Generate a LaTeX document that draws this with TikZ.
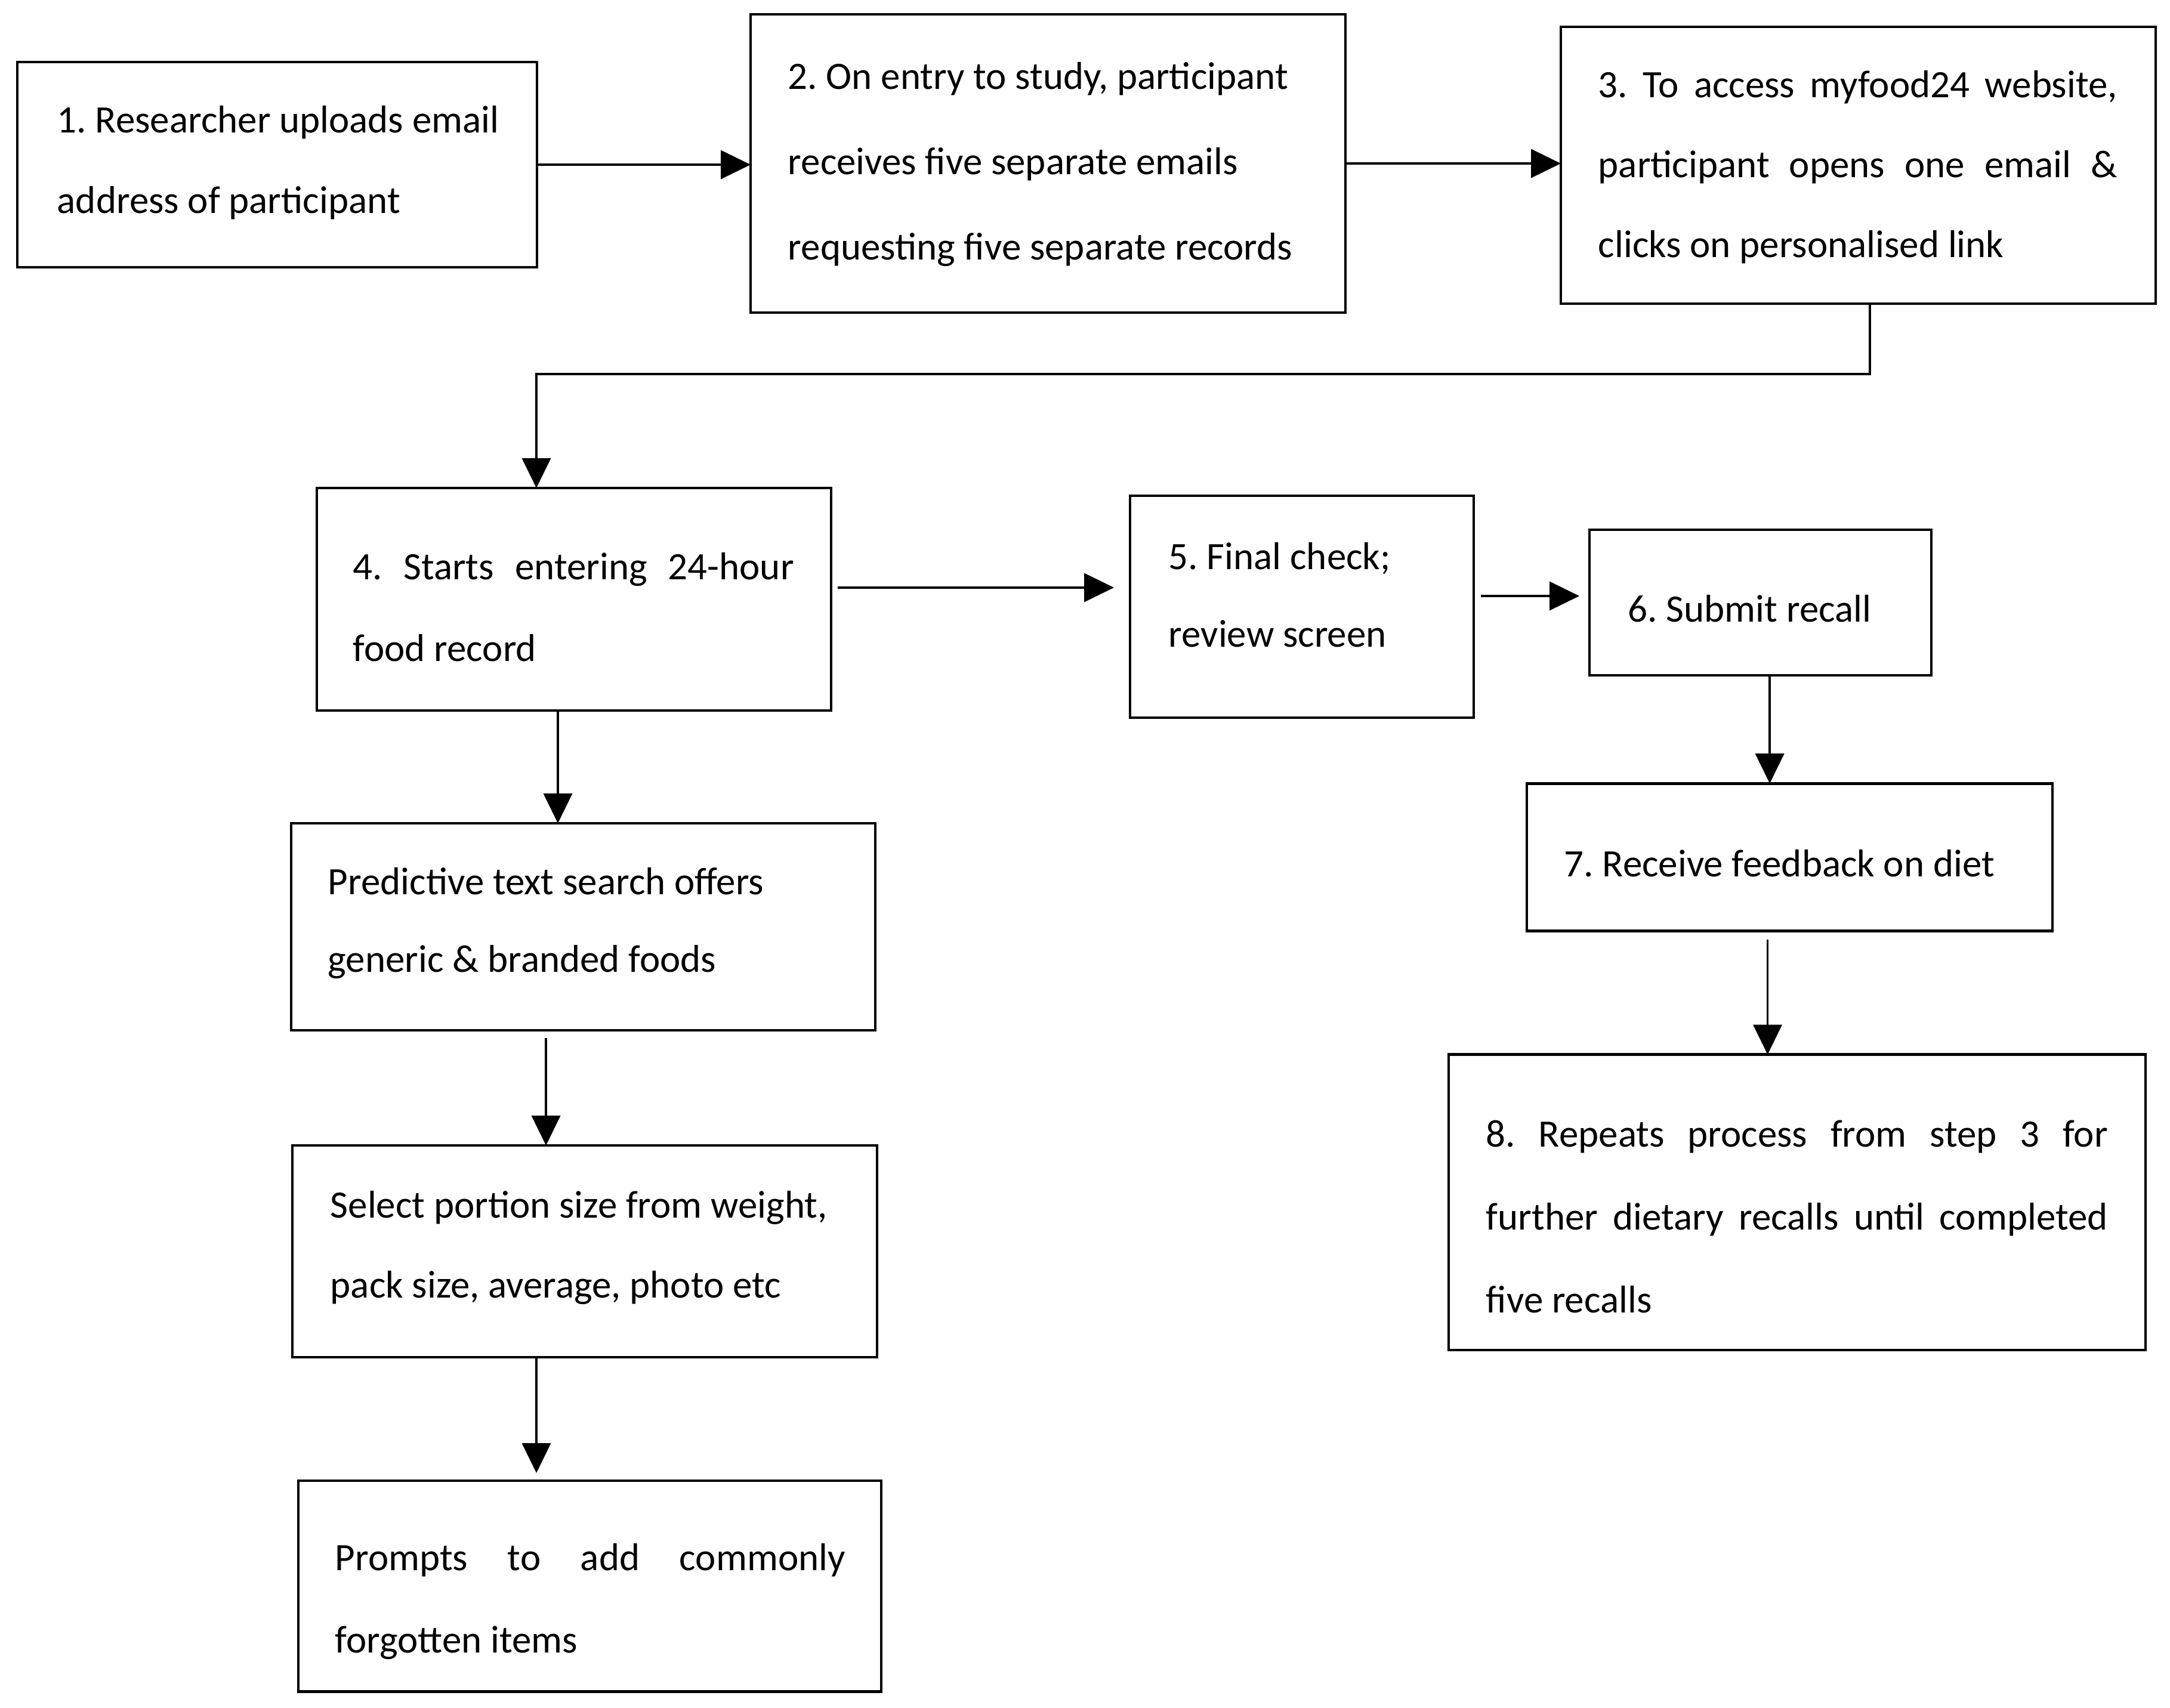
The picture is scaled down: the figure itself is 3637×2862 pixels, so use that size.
\documentclass[tikz,border=0pt]{standalone}
\usepackage{fontspec}
\setmainfont{Carlito}
\usetikzlibrary{arrows.meta}
\frenchspacing
\begin{document}
\begin{tikzpicture}[x=0.25pt,y=-0.25pt,
  box/.style={draw=black, line width=1.2pt, inner sep=0pt, outer sep=0pt},
  txt/.style={font=\frenchspacing\fontsize{16.25pt}{#1}\selectfont, inner sep=0pt, anchor=west, align=left},
  txt/.default=33.75pt,
  arr/.style={line width=0.9pt, -{Triangle[length=12.5pt,width=12pt]}}]
\useasboundingbox (0,0) rectangle (3637,2862);
\fill[white] (0,0) rectangle (3637,2862);
% boxes
\node[box, minimum width=217.75pt, minimum height=86pt] (n1) at (464.5,276) {};
\node[box, minimum width=249.25pt, minimum height=125pt] (n2) at (1756.5,274) {};
\node[box, minimum width=249.25pt, minimum height=116pt] (n3) at (3114.5,277) {};
\node[box, minimum width=215.5pt, minimum height=93.25pt] (n4) at (962,1004.5) {};
\node[box, minimum width=144pt, minimum height=93pt] (n5) at (2182,1017) {};
\node[box, minimum width=143.25pt, minimum height=61pt] (n6) at (2950.5,1010) {};
\node[box, minimum width=220.25pt, minimum height=61.9pt] (n7) at (2999.5,1437) {};
\node[box, minimum width=292pt, minimum height=123.85pt] (n8) at (3012,2015.3) {};
\node[box, minimum width=244.75pt, minimum height=86.75pt] (np) at (977.5,1553.5) {};
\node[box, minimum width=245pt, minimum height=88.75pt] (ns) at (980,2097.5) {};
\node[box, minimum width=244.25pt, minimum height=88.4pt] (npr) at (988.5,2658.8) {};
% texts
\node[txt] (t1) at (95,272.5) {1. Researcher uploads email\\address of participant};
\node[txt=35.75pt] (t2) at (1320,276) {2. On entry to study, participant\\receives five separate emails\\requesting five separate records};
\node[txt=33.5pt] (t3) at (2678,280) {\makebox[217.5pt][s]{3. To access myfood24 website,}\\\makebox[217.5pt][s]{participant opens one email \&}\\clicks on personalised link};
\node[txt=34.25pt] (t4) at (591,1017.5) {\makebox[184.75pt][s]{4. Starts entering 24-hour}\\food record};
\node[txt=32.35pt] (t5) at (1958,997) {5. Final check;\\review screen};
\node[txt] (t6) at (2728,1020) {6. Submit recall};
\node[txt] (t7) at (2621,1447.5) {7. Receive feedback on diet};
\node[txt=34.75pt] (t8) at (2490,2039) {\makebox[260.5pt][s]{8. Repeats process from step 3 for}\\\makebox[260.5pt][s]{further dietary recalls until completed}\\five recalls};
\node[txt=32.5pt] (tp) at (549,1547) {Predictive text search offers\\generic \& branded foods};
\node[txt=33.5pt] (ts) at (553,2091) {Select portion size from weight,\\pack size, average, photo etc};
\node[txt=34.5pt] (tpr) at (561,2684) {\makebox[213.75pt][s]{Prompts to add commonly}\\forgotten items};
% connectors
\draw[arr] (n1.east) -- (n1.east -| n2.west);
\draw[arr] (n2.east) -- (n2.east -| n3.west);
\coordinate (c34) at (899,627);
\draw[arr] ([xshift=4.9pt]n3.south) |- (c34) -- ([xshift=-15.75pt]n4.north);
\draw[arr, shorten <=2.75pt, shorten >=6.75pt] ([yshift=4.9pt]n4.east) -- ([yshift=4.9pt]n4.east -| n5.west);
\draw[arr, shorten <=2.9pt, shorten >=4.25pt] ([yshift=4.5pt]n5.east) -- ([yshift=4.5pt]n5.east -| n6.west);
\draw[arr] ([xshift=3.9pt]n6.south) -- ([xshift=3.9pt]n6.south |- n7.north);
\draw[arr, shorten <=3.5pt] ([xshift=-9.25pt]n7.south) -- ([xshift=-9.25pt]n7.south |- n8.north);
\draw[arr] ([xshift=-6.75pt]n4.south) -- ([xshift=-6.75pt]n4.south |- np.north);
\draw[arr, shorten <=3.25pt] ([xshift=-15.6pt]np.south) -- ([xshift=-15.6pt]np.south |- ns.north);
\draw[arr, shorten >=3.25pt] ([xshift=-20.25pt]ns.south) -- ([xshift=-20.25pt]ns.south |- npr.north);
\end{tikzpicture}
\end{document}
